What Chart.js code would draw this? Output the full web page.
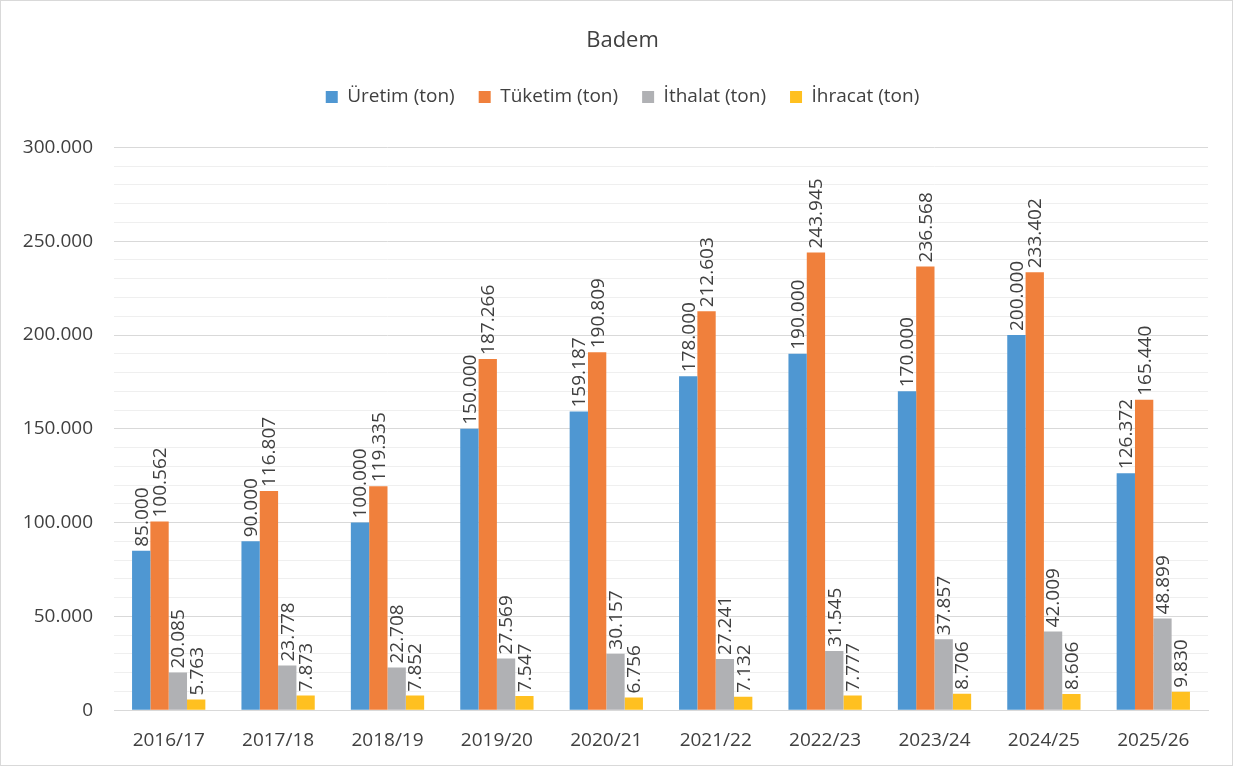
<!DOCTYPE html>
<html lang="tr">
<head>
<meta charset="utf-8">
<title>Badem</title>
<script src="https://cdn.jsdelivr.net/npm/chart.js@4/dist/chart.umd.min.js"></script>
<style>
    html, body { margin: 0; padding: 0; background: #fff; }
    .chart-box {
        width: 1233px;
        height: 766px;
        box-sizing: border-box;
        border: 1px solid #d9d9d9;
        position: relative;
    }
</style>
</head>
<body>
<div class="chart-box">
    <canvas id="bademChart"></canvas>
</div>
<script>
// Marketing years and the four series (tons)
const categories = ['2016/17', '2017/18', '2018/19', '2019/20', '2020/21', '2021/22', '2022/23', '2023/24', '2024/25', '2025/26'];
const uretim  = [85000, 90000, 100000, 150000, 159187, 178000, 190000, 170000, 200000, 126372];
const tuketim = [100562, 116807, 119335, 187266, 190809, 212603, 243945, 236568, 233402, 165440];
const ithalat = [20085, 23778, 22708, 27569, 30157, 27241, 31545, 37857, 42009, 48899];
const ihracat = [5763, 7873, 7852, 7547, 6756, 7132, 7777, 8706, 8606, 9830];

const seriesNames = ['Üretim (ton)', 'Tüketim (ton)', 'İthalat (ton)', 'İhracat (ton)'];
const seriesColors = ['#4f97d2', '#f0803c', '#b0b1b4', '#ffc020'];

const FONT = '"Open Sans", "DejaVu Sans", sans-serif';
const TEXT = '#404040';

// 300000 -> "300.000"
function formatTr(n) {
    return String(n).replace(/\B(?=(\d{3})+(?!\d))/g, '.');
}

// Vertical value labels sitting on top of each bar
const barValueLabels = {
    id: 'barValueLabels',
    afterDatasetsDraw(chart) {
        const ctx = chart.ctx;
        ctx.save();
        ctx.font = '19px ' + FONT;
        ctx.fillStyle = TEXT;
        ctx.textAlign = 'left';
        ctx.textBaseline = 'middle';
        chart.data.datasets.forEach((ds, i) => {
            const meta = chart.getDatasetMeta(i);
            meta.data.forEach((bar, j) => {
                ctx.save();
                ctx.translate(bar.x, bar.y - 4);
                ctx.rotate(-Math.PI / 2);
                ctx.fillText(formatTr(ds.data[j]), 0, 1);
                ctx.restore();
            });
        });
        ctx.restore();
    }
};

// Extra room under the legend before the plot starts
const legendGap = {
    id: 'legendGap',
    beforeInit(chart) {
        const fit = chart.legend.fit;
        chart.legend.fit = function () {
            fit.call(this);
            this.height += 31;
        };
    }
};

const datasets = [uretim, tuketim, ithalat, ihracat].map((values, i) => ({
    label: seriesNames[i],
    data: values,
    backgroundColor: seriesColors[i],
    borderWidth: 0,
    categoryPercentage: 0.67,
    barPercentage: 1.0
}));

new Chart(document.getElementById('bademChart'), {
    type: 'bar',
    data: { labels: categories, datasets: datasets },
    plugins: [barValueLabels, legendGap],
    options: {
        responsive: true,
        maintainAspectRatio: false,
        animation: false,
        layout: {
            padding: { left: 12, right: 0, top: 27, bottom: 2 }
        },
        plugins: {
            title: {
                display: true,
                text: 'Badem',
                color: TEXT,
                font: { family: FONT, size: 22, weight: 'normal' },
                padding: { top: 0, bottom: 9 }
            },
            legend: {
                position: 'top',
                labels: {
                    color: TEXT,
                    font: { family: FONT, size: 19 },
                    boxWidth: 12,
                    boxHeight: 12,
                    padding: 24
                }
            },
            tooltip: { enabled: false }
        },
        scales: {
            x: {
                grid: { display: false },
                border: { color: '#d9d9d9', width: 1 },
                ticks: {
                    color: TEXT,
                    font: { family: FONT, size: 19 },
                    padding: 11,
                    maxRotation: 0
                }
            },
            y: {
                min: 0,
                max: 300000,
                border: { display: false },
                afterFit: (scale) => { scale.width = 101; },
                grid: {
                    drawTicks: false,
                    color: (c) => (c.tick && c.tick.value % 50000 === 0) ? '#d9d9d9' : '#efefef',
                    lineWidth: 1
                },
                ticks: {
                    stepSize: 10000,
                    autoSkip: false,
                    color: TEXT,
                    font: { family: FONT, size: 19 },
                    padding: 21,
                    callback: (value) => value % 50000 === 0 ? formatTr(value) : ''
                }
            },
            // empty strip on the right side of the plot
            yRight: {
                position: 'right',
                display: true,
                afterFit: (scale) => { scale.width = 24; },
                grid: { display: false },
                border: { display: false },
                ticks: { display: false }
            }
        }
    }
});
</script>
</body>
</html>
